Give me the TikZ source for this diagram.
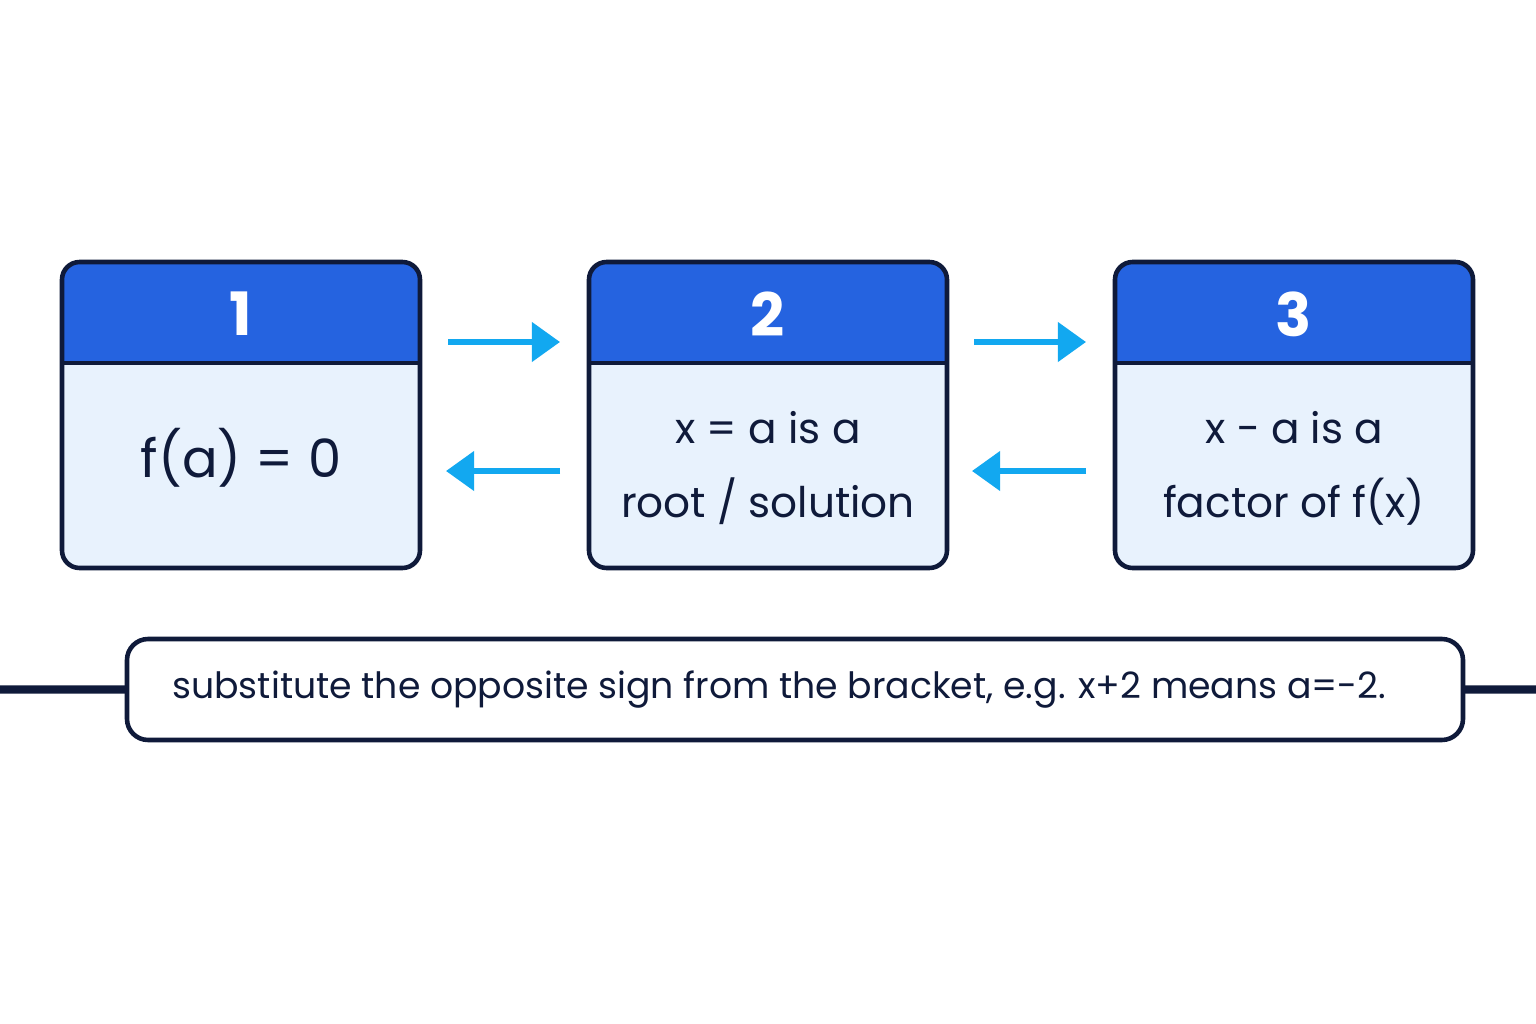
\documentclass[tikz,border=0pt]{standalone}
\usepackage{fontspec}
\setmainfont{Poppins}
\usetikzlibrary{arrows.meta}
\definecolor{hdr}{HTML}{2563E0}
\definecolor{bdy}{HTML}{E8F2FD}
\definecolor{edge}{HTML}{0F1A3A}
\definecolor{arr}{HTML}{12A8F0}
\begin{document}
\begin{tikzpicture}[x=0.01cm,y=-0.01cm,
  body/.style={draw=edge,line width=1.3pt,rounded corners=5pt,fill=bdy},
  num/.style={text=white,font=\fontsize{17}{20}\selectfont\bfseries},
  txt/.style={text=edge,align=center,font=\fontsize{12}{21}\selectfont},
  ar/.style={draw=arr,line width=1.6pt,-{Triangle[length=8pt,width=11pt]}}]
\path[fill=white] (0,0) rectangle (1536,1024);
\useasboundingbox (0,0) rectangle (1536,1024);
\foreach \i/\x in {1/62,2/589,3/1115}{
  \fill[hdr,rounded corners=5pt] (\x,262) rectangle (\x+358,363);
  \fill[hdr] (\x,320) rectangle (\x+358,363);
  \fill[bdy,rounded corners=5pt] (\x,363) rectangle (\x+358,568);
  \fill[bdy] (\x,363) rectangle (\x+358,400);
  \draw[edge,line width=1.3pt,rounded corners=5pt] (\x,262) rectangle (\x+358,568);
  \draw[edge,line width=1.3pt] (\x,363) -- (\x+358,363);
  \node[num] (h\i) at (\x+179,314) {\i};
}
\node[txt,font=\fontsize{15}{21}\selectfont] (t1) at (241,458) {f(a) = 0};
\node[txt] (t2) at (768,468) {x = a is a\\root / solution};
\node[txt] (t3) at (1294,468) {x − a is a\\factor of f(x)};
\coordinate (a1) at (448,342); \coordinate (b1) at (560,342);
\coordinate (c1) at (560,471); \coordinate (d1) at (446,471);
\coordinate (a2) at (974,342); \coordinate (b2) at (1086,342);
\coordinate (c2) at (1086,471); \coordinate (d2) at (972,471);
\draw[ar] (a1) -- (b1); \draw[ar] (c1) -- (d1);
\draw[ar] (a2) -- (b2); \draw[ar] (c2) -- (d2);
\node[draw=edge,line width=1.3pt,rounded corners=6pt,fill=white,minimum width=1336\pgflinewidth,
  inner sep=0pt] (note) at (795,689.5) {};
\draw[edge,line width=1.3pt,rounded corners=6pt,fill=white] (127,639) rectangle (1463,740);
\node[anchor=west,text=edge,font=\fontsize{10.3}{12}\selectfont] (nt) at (160,690) {substitute the opposite sign from the bracket, e.g. x+2 means a=-2.};
\end{tikzpicture}
\end{document}
